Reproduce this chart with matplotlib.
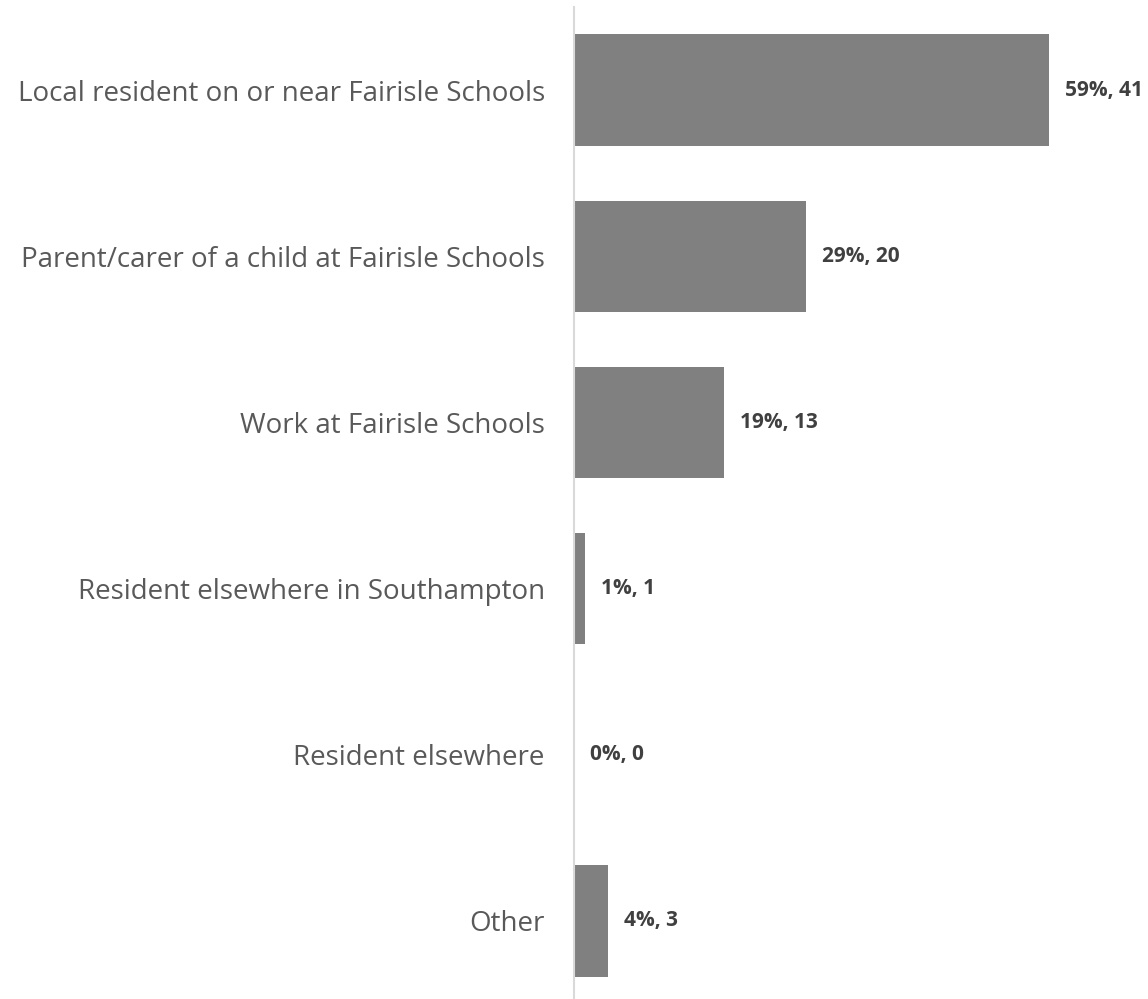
#!/usr/bin/env python3
"""plot.py - horizontal bar chart of respondent types (share of 69 responses)."""

import matplotlib
matplotlib.use("Agg")
import matplotlib.pyplot as plt

# ---------------------------------------------------------------------------
# Data
# ---------------------------------------------------------------------------

categories = [
    "Local resident on or near Fairisle Schools",
    "Parent/carer of a child at Fairisle Schools",
    "Work at Fairisle Schools",
    "Resident elsewhere in Southampton",
    "Resident elsewhere",
    "Other",
]
percents = [59.4, 29.0, 18.8, 1.4, 0.0, 4.3]
counts   = [41, 20, 13, 1, 0, 3]

BAR_COLOR   = "#808080"
LABEL_COLOR = "#595959"
VALUE_COLOR = "#404040"
AXIS_COLOR  = "#d9d9d9"

W, H = 1148, 999

# ---------------------------------------------------------------------------
# Plot
# ---------------------------------------------------------------------------

fig = plt.figure(figsize=(W / 100, H / 100), dpi=100)
# axes spans from the category axis line to the right edge; slightly clipped at bottom
ax = fig.add_axes([574 / W, -5 / H, 1 - 574 / W, 997 / H])

y = list(range(len(categories)))
ax.barh(y, percents, height=0.67, color=BAR_COLOR, zorder=2)

for yi, p, n in zip(y, percents, counts):
    ax.annotate(f"{round(p)}%, {n}", xy=(p, yi), xytext=(11.5, 0),
                textcoords="offset points", ha="left", va="center",
                fontsize=15, fontweight="bold", color=VALUE_COLOR,
                family="Open Sans")

ax.set_xlim(0, (W - 574) / 8.0)
ax.set_ylim(len(categories) - 0.5, -0.5)

ax.set_yticks(y)
ax.set_yticklabels(categories, fontsize=20, color=LABEL_COLOR, family="Open Sans")
ax.tick_params(axis="y", length=0, pad=21)
ax.set_xticks([])

for side in ("top", "right", "bottom"):
    ax.spines[side].set_visible(False)
ax.spines["left"].set_color(AXIS_COLOR)
ax.spines["left"].set_linewidth(1.5)

fig.savefig("out.png", dpi=100)
